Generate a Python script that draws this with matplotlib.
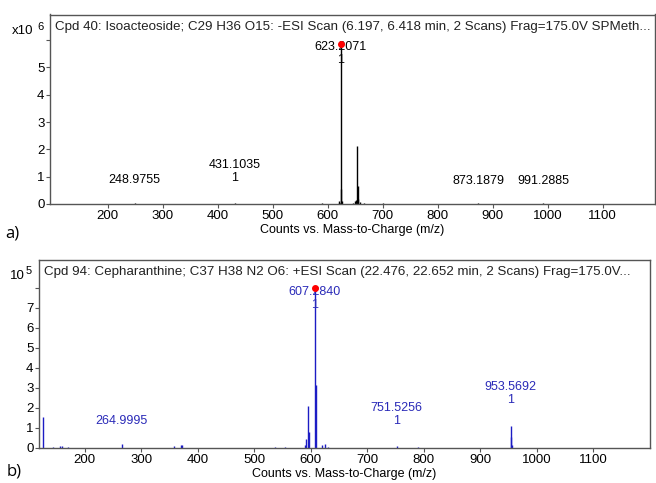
import matplotlib
matplotlib.use('Agg')
import matplotlib.pyplot as plt

plt.rcParams['font.family'] = ['Liberation Sans', 'DejaVu Sans']

# panel a: Isoacteoside, -ESI (counts x10^6)
a_title = ('Cpd 40: Isoacteoside; C29 H36 O15: -ESI Scan (6.197, 6.418 min, 2 Scans) '
           'Frag=175.0V SPMeth...')
a_mz = [248.98, 431.10, 590.0, 620.0, 621.2, 622.2, 623.21, 624.21, 625.2,
        645.0, 650.0, 651.5, 653.2, 654.2, 655.2, 658.0, 665.0, 700.0, 873.19, 991.29]
a_int = [0.02, 0.03, 0.02, 0.05, 0.12, 0.04, 5.85, 0.55, 0.1,
         0.04, 0.1, 0.15, 2.12, 0.65, 0.2, 0.08, 0.03, 0.02, 0.02, 0.02]
a_labels = ['623.2071', '248.9755', '431.1035', '873.1879', '991.2885']
a_label_mz = [623.21, 248.98, 431.10, 873.19, 991.29]
a_label_y = [5.75, 0.88, 1.43, 0.84, 0.84]
a_label_rank = [True, False, True, False, False]

# panel b: Cepharanthine, +ESI (counts x10^5)
b_title = ('Cpd 94: Cepharanthine; C37 H38 N2 O6: +ESI Scan (22.476, 22.652 min, 2 Scans) '
           'Frag=175.0V...')
b_mz = [126.0, 144.0, 157.0, 159.0, 170.0, 265.0, 358.0, 370.0, 372.0, 400.0,
        537.0, 555.0, 590.0, 592.0, 594.3, 596.0, 607.28, 608.29, 620.0, 625.0,
        630.0, 751.53, 790.0, 953.57, 954.57, 956.0]
b_int = [1.55, 0.04, 0.1, 0.12, 0.05, 0.2, 0.12, 0.15, 0.15, 0.02,
         0.03, 0.03, 0.15, 0.45, 2.1, 0.8, 8.0, 3.15, 0.15, 0.2,
         0.05, 0.12, 0.03, 1.1, 0.55, 0.15]
b_labels = ['607.2840', '264.9995', '751.5256', '953.5692']
b_label_mz = [607.28, 265.0, 751.53, 953.57]
b_label_y = [7.8, 1.35, 2.0, 3.05]
b_label_rank = [True, False, True, True]

BLUE_LINE = '#1c1cc4'
BLUE_TEXT = '#2a2ab8'
SPINE = '#555555'
W, H = 656, 483


def px(x, y):
    return x / W, 1 - y / H


def draw_panel(ax, mz, inten, labels, label_mz, label_y, label_rank,
               line_color, text_color, xlim, ylim, title, top_ticks):
    ax.vlines(mz, 0, inten, color=line_color, lw=1.0)
    top = max(range(len(inten)), key=lambda i: inten[i])
    ax.plot(mz[top], inten[top], 'o', color='red', ms=4, zorder=5)
    for lab, x, y, rank in zip(labels, label_mz, label_y, label_rank):
        ax.text(x, y, lab, ha='center', va='center', fontsize=9, color=text_color)
        if rank:
            ax.text(x, y - ylim[1] * 0.07, '1', ha='center', va='center',
                    fontsize=9, color=text_color)
    ax.set_xlim(*xlim)
    ax.set_ylim(*ylim)
    ax.set_xticks(range(200, 1101, 100))
    ax.set_yticks(range(0, top_ticks + 1))
    ax.set_yticklabels([str(t) for t in range(top_ticks)] + [''])
    ax.tick_params(labelsize=9.5, length=3, width=0.8, pad=1, color=SPINE)
    for s in ax.spines.values():
        s.set_color(SPINE)
        s.set_linewidth(1.0)
    ax.set_xlabel('Counts vs. Mass-to-Charge (m/z)', fontsize=9, labelpad=1.5)
    ax.text(0.008, 0.934, title, transform=ax.transAxes, ha='left', va='center',
            fontsize=9.6, color='#222222')


fig = plt.figure(figsize=(6.56, 4.83), dpi=100)
ax1 = fig.add_axes([50 / W, 1 - 204 / H, 605 / W, 189.5 / H])
ax2 = fig.add_axes([39 / W, 1 - 448 / H, 611 / W, 188 / H])

draw_panel(ax1, a_mz, a_int, a_labels, a_label_mz, a_label_y, a_label_rank,
           'black', 'black', (95, 1195), (0, 6.94), a_title, 6)
draw_panel(ax2, b_mz, b_int, b_labels, b_label_mz, b_label_y, b_label_rank,
           BLUE_LINE, BLUE_TEXT, (119, 1200), (0, 9.4), b_title, 8)

# exponent labels
fig.text(*px(12, 31), 'x10', fontsize=9.5, va='center')
fig.text(*px(37, 27), '6', fontsize=8, va='center')
fig.text(*px(10, 276), '10', fontsize=9.5, va='center')
fig.text(*px(26, 271), '5', fontsize=8, va='center')

fig.text(*px(5, 234), 'a)', fontsize=12, va='center', family='Open Sans')
fig.text(*px(7, 472), 'b)', fontsize=12, va='center', family='Open Sans')

fig.savefig('out.png', dpi=100)
